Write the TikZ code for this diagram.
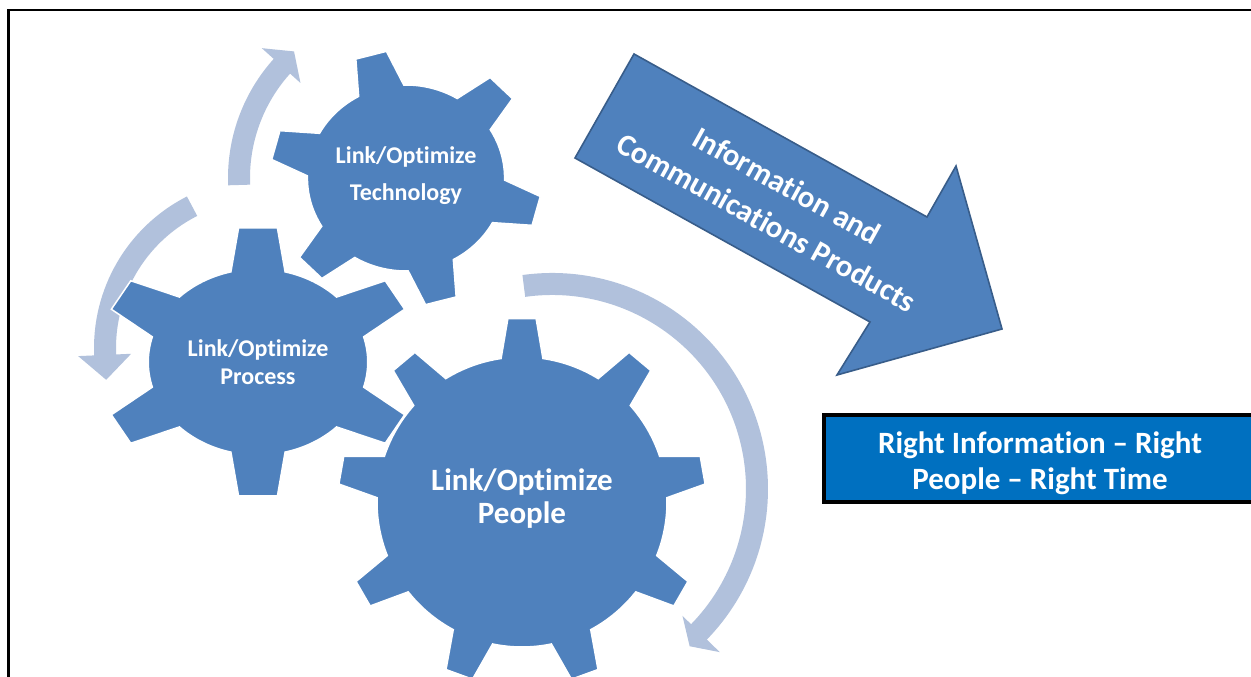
\documentclass[tikz,border=0pt]{standalone}
\usepackage{fontspec}
\setmainfont{Carlito}[Ligatures=NoCommon]
\definecolor{gearblue}{RGB}{79,129,189}
\definecolor{bandblue}{RGB}{177,193,220}
\definecolor{edgeblue}{RGB}{56,93,138}
\definecolor{boxblue}{RGB}{0,112,192}
\tikzset{
  gear/.style={fill=gearblue, draw=white, line width=1.5pt},
  band/.style={draw=bandblue, line width=22pt, line cap=butt},
  bandhead/.style={fill=bandblue},
  geartext/.style={text=white, align=center, inner sep=0pt},
  bigarrow/.style={fill=gearblue, draw=edgeblue, line width=1.6pt, line join=miter},
  rightbox/.style={draw=black, line width=4pt, fill=boxblue, text=white, align=center, inner sep=0pt},
}
\begin{document}
\begin{tikzpicture}[x=1pt, y=1pt]
\useasboundingbox (0,0) rectangle (1251,677);
\clip (0,0) rectangle (1251,677);
\fill[white] (0,0) rectangle (1251,677);

% frame
\draw[line width=2.5pt, black] (8.7,-2) -- (8.7,667) -- (1255,667);

% curved light arrows
\begin{scope}[shift={(406,499)}]
  \draw[band] (182.4:167) arc[start angle=182.4, end angle=137.6, radius=167];
  \fill[bandhead] (138:142) -- (131.5:169) -- (138:194) -- cycle;
\end{scope}
\begin{scope}[shift={(264,329)}]
  \draw[band] (116.9:159) arc[start angle=116.9, end angle=182.9, radius=159];
  \fill[bandhead] (182.5:133) -- (191.4:161) -- (182.5:186) -- cycle;
\end{scope}
\begin{scope}[shift={(552,188)}]
  \draw[band] (97.9:205) arc[start angle=97.9, end angle=-44.6, radius=205];
  \fill[bandhead] (-44.2:182) -- (-48.8:209) -- (-44.2:234) -- cycle;
\end{scope}

% technology gear
\begin{scope}[shift={(406,499)}, xscale=1.06]
  \path[gear] (-148.7:93)
    \foreach \a [evaluate=\a as \s using \a+13.7, evaluate=\a as \e using \a+46.3] in {-135,-75,-15,45,105,165} {
      -- (\a-6.7:128) -- (\a+6.7:128) -- (\s:93) arc[start angle=\s, end angle=\e, radius=93]
    } -- cycle;
\end{scope}

% process gear
\begin{scope}[shift={(258,315)}, xscale=1.18]
  \path[gear] (-164.3:93)
    \foreach \a [evaluate=\a as \s using \a+14.3, evaluate=\a as \e using \a+45.7] in {-150,-90,-30,30,90,150} {
      -- (\a-7:135) -- (\a+7:135) -- (\s:93) arc[start angle=\s, end angle=\e, radius=93]
    } -- cycle;
\end{scope}

% people gear
\begin{scope}[shift={(522,175)}]
  \path[gear] (1.7:145)
    \foreach \a [evaluate=\a as \s using \a+8.3, evaluate=\a as \e using \a+31.7] in {10,50,90,130,170,210,250,290,330} {
      -- (\a-4.4:184) -- (\a+4.4:184) -- (\s:145) arc[start angle=\s, end angle=\e, radius=145]
    } -- cycle;
\end{scope}

\node[geartext, font=\bfseries\fontsize{24}{37}\selectfont] (tech) at (406,501) {Link/Optimize\\Technology};
\node[geartext, font=\bfseries\fontsize{24}{28}\selectfont] (proc) at (258,315) {Link/Optimize\\Process};
\node[geartext, font=\bfseries\fontsize{31}{33}\selectfont] (people) at (522,178) {Link/Optimize\\People};

% big arrow
\path[bigarrow] (634,623) -- (927,460) -- (956,511) -- (1002,348) -- (837,302) -- (870,355) -- (575,519) -- cycle;
\node[geartext, rotate=-29, font=\bfseries\fontsize{31}{42}\selectfont] (info) at (777,473) {Information and\\Communications Products};

% right box
\node[rightbox, minimum width=436pt, minimum height=87pt] (right) at (1042,218) {};
\node[geartext, font=\bfseries\fontsize{31}{36}\selectfont] (righttext) at (1040,214) {Right Information -- Right\\People -- Right Time};
\end{tikzpicture}
\end{document}
